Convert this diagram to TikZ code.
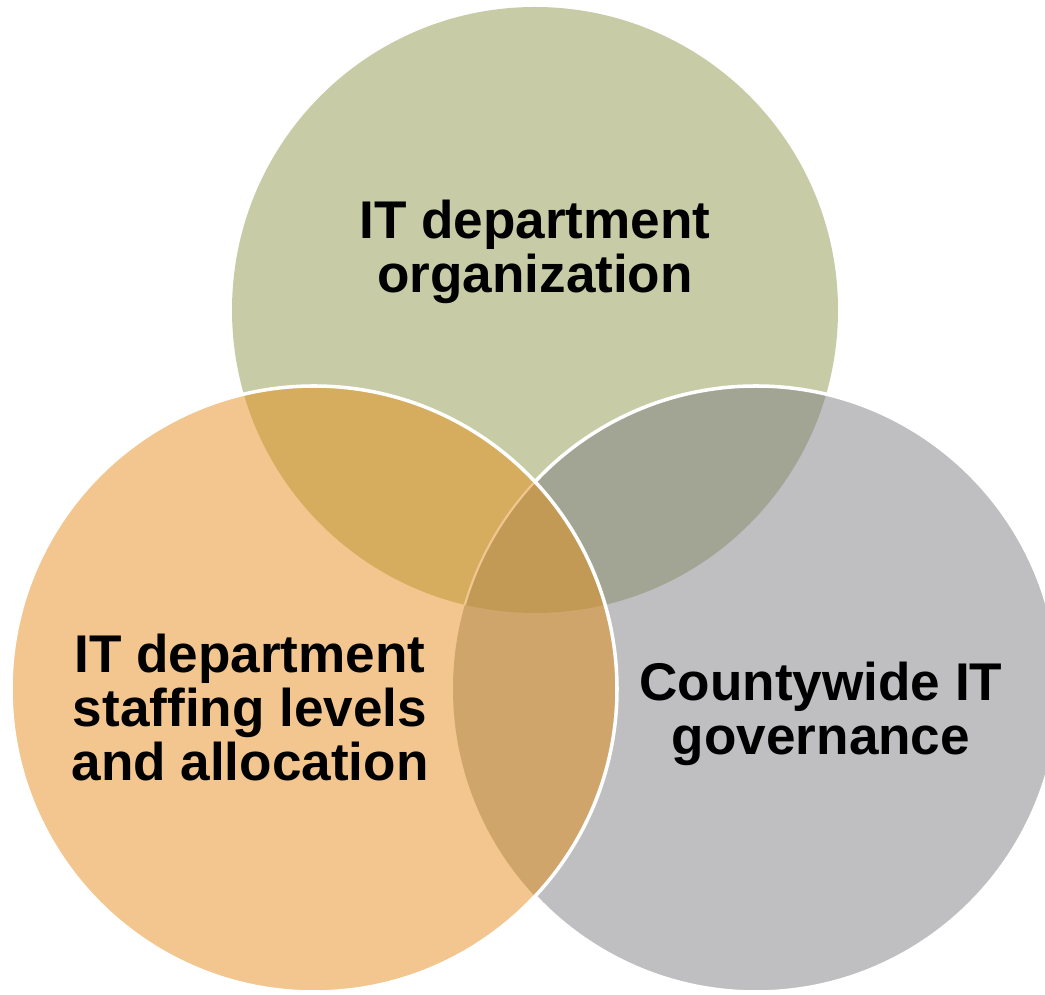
\documentclass[tikz,border=0pt]{standalone}
\usepackage{fontspec}
\setmainfont{Liberation Sans}

\definecolor{orggreen}{HTML}{C7CCA7}
\definecolor{govgrey}{HTML}{BFBFC1}
\definecolor{staffsand}{HTML}{F2C68E}
\definecolor{orgstaff}{HTML}{D6AD5F}
\definecolor{orggov}{HTML}{A2A593}
\definecolor{staffgov}{HTML}{D0A56B}
\definecolor{allthree}{HTML}{C29A55}

\newcommand*{\vennr}{303}

\begin{document}
\begin{tikzpicture}
[
	x=0.01cm,y=0.01cm,
	venntext/.style={anchor=base,align=center,font=\fontsize{15.1}{15.4}\selectfont\bfseries},
	rim/.style={draw=white,line width=1pt},
	seam/.style={draw=staffsand,line width=0.6pt}
]
	\useasboundingbox (0,0) rectangle (1045,-995);

	% centres
	\coordinate (ctop) at (535,-310);
	\coordinate (cleft) at (314,-689);
	\coordinate (cright) at (756,-689);

	\fill[orggreen] (ctop) circle (\vennr);
	\fill[govgrey] (cright) circle (\vennr);
	\begin{scope}
		\clip (ctop) circle (\vennr);
		\fill[orggov] (cright) circle (\vennr);
	\end{scope}
	\draw[rim] (cright) circle (\vennr);

	\fill[staffsand] (cleft) circle (\vennr);
	\begin{scope}
		\clip (cleft) circle (\vennr);
		\fill[staffgov] (cright) circle (\vennr);
		\clip (ctop) circle (\vennr);
		\fill[orgstaff] (cleft) circle (\vennr);
		\fill[allthree] (cright) circle (\vennr);
		\draw[seam] (cright) circle (\vennr);
	\end{scope}
	\draw[rim] (cleft) circle (\vennr);

	% labels (base = last line)
	\node[venntext] (org) at (535,-293) {IT department\\organization};
	\node[venntext] (staff) at (250,-781) {IT department\\staffing levels\\and allocation};
	\node[venntext] (gov) at (821,-755) {Countywide IT\\governance};

\end{tikzpicture}
\end{document}
